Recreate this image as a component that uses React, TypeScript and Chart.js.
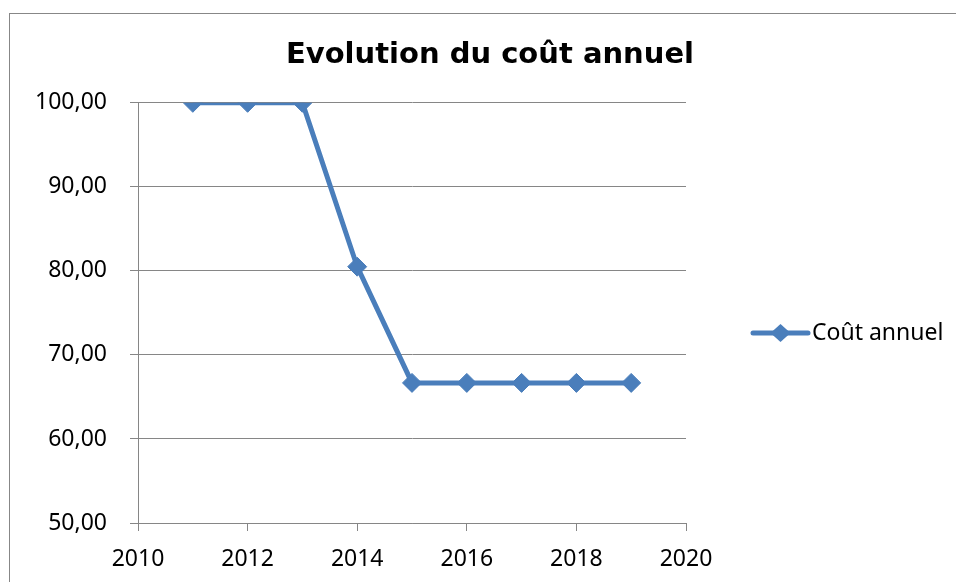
import React, { useEffect, useRef } from "react";
import { Chart, registerables } from "chart.js";

Chart.register(...registerables);

const chartTitle = "Evolution du coût annuel";
const seriesLabel = "Coût annuel";
const years = [2011, 2012, 2013, 2014, 2015, 2016, 2017, 2018, 2019];
const costs = [100, 100, 100, 80.5, 66.67, 66.67, 66.67, 66.67, 66.67];
const xMin = 2010;
const xMax = 2020;
const xStep = 2;
const yMin = 50;
const yMax = 100;
const yStep = 10;

const LINE_COLOR = "#4A7EBB";
const GRID_COLOR = "#868686";
const LABEL_FONT = "'Noto Sans', sans-serif";

export default function App() {
  const ref = useRef<HTMLCanvasElement | null>(null);

  useEffect(() => {
    if (!ref.current) return;
    const sideLegend = {
      id: "sideLegend",
      afterDraw(chart: any) {
        const ctx = chart.ctx as CanvasRenderingContext2D;
        const ds = chart.data.datasets[0];
        const area = chart.chartArea;
        const x0 = area.right + 67;
        const x1 = x0 + 55;
        const cx = (x0 + x1) / 2;
        const y = 319;
        ctx.save();
        ctx.strokeStyle = ds.borderColor;
        ctx.lineWidth = 5;
        ctx.lineCap = "round";
        ctx.beginPath();
        ctx.moveTo(x0, y);
        ctx.lineTo(x1, y);
        ctx.stroke();
        ctx.fillStyle = ds.borderColor;
        ctx.beginPath();
        ctx.moveTo(cx, y - 9);
        ctx.lineTo(cx + 10, y);
        ctx.lineTo(cx, y + 9);
        ctx.lineTo(cx - 10, y);
        ctx.closePath();
        ctx.fill();
        ctx.fillStyle = "#000";
        ctx.font = `23px ${LABEL_FONT}`;
        ctx.textBaseline = "middle";
        ctx.textAlign = "left";
        ctx.fillText(ds.label, x1 + 4, y);
        ctx.restore();
      },
    };

    const chart = new Chart(ref.current, {
      type: "line",
      data: {
        datasets: [
          {
            label: seriesLabel,
            data: years.map((x, i) => ({ x, y: costs[i] })),
            borderColor: LINE_COLOR,
            backgroundColor: LINE_COLOR,
            borderWidth: 5,
            pointStyle: "rectRot",
            pointRadius: 9.5,
            pointBorderWidth: 1,
            pointBackgroundColor: LINE_COLOR,
            pointBorderColor: LINE_COLOR,
            tension: 0,
          },
        ],
      },
      options: {
        responsive: false,
        animation: false,
        layout: { padding: { left: 0, right: 0, top: 0, bottom: 0 } },
        plugins: {
          legend: { display: false },
          tooltip: { enabled: false },
          title: {
            display: true,
            text: chartTitle,
            color: "#000",
            font: { family: "'DejaVu Sans', sans-serif", size: 29, weight: "bold" },
            padding: { top: 24, bottom: 30 },
          },
        },
        scales: {
          x: {
            type: "linear",
            min: xMin,
            max: xMax,
            ticks: {
              stepSize: xStep,
              color: "#000",
              font: { family: LABEL_FONT, size: 23 },
              padding: 15,
              maxRotation: 0,
              callback: (v: any) => String(v),
            },
            grid: { drawOnChartArea: false, drawTicks: true, tickLength: 8, color: GRID_COLOR },
            border: { color: GRID_COLOR, width: 1 },
            afterFit(s: any) {
              s.height = 59;
            },
          },
          y: {
            min: yMin,
            max: yMax,
            ticks: {
              stepSize: yStep,
              color: "#000",
              font: { family: LABEL_FONT, size: 23 },
              padding: 23,
              callback: (v: any) => Number(v).toFixed(2).replace(".", ","),
            },
            grid: { color: GRID_COLOR, tickLength: 8 },
            border: { color: GRID_COLOR, width: 1 },
            afterFit(s: any) {
              s.width = 128;
            },
          },
          legendSpace: {
            type: "linear",
            position: "right",
            display: true,
            min: 0,
            max: 1,
            grid: { display: false, drawTicks: false },
            border: { display: false },
            ticks: { display: false },
            afterFit(s: any) {
              s.width = 284;
            },
          },
        },
      },
      plugins: [sideLegend],
    } as any);
    return () => chart.destroy();
  }, []);

  return (
    <div style={{ position: "fixed", inset: 0, overflow: "hidden", background: "#fff" }}>
      <div
        style={{
          position: "absolute",
          left: 9,
          top: 13,
          width: 1100,
          height: 800,
          border: "1px solid #878787",
        }}
      >
        <canvas
          ref={ref}
          width={960}
          height={568}
          style={{ position: "absolute", left: 0, top: 0, display: "block" }}
        />
      </div>
    </div>
  );
}
